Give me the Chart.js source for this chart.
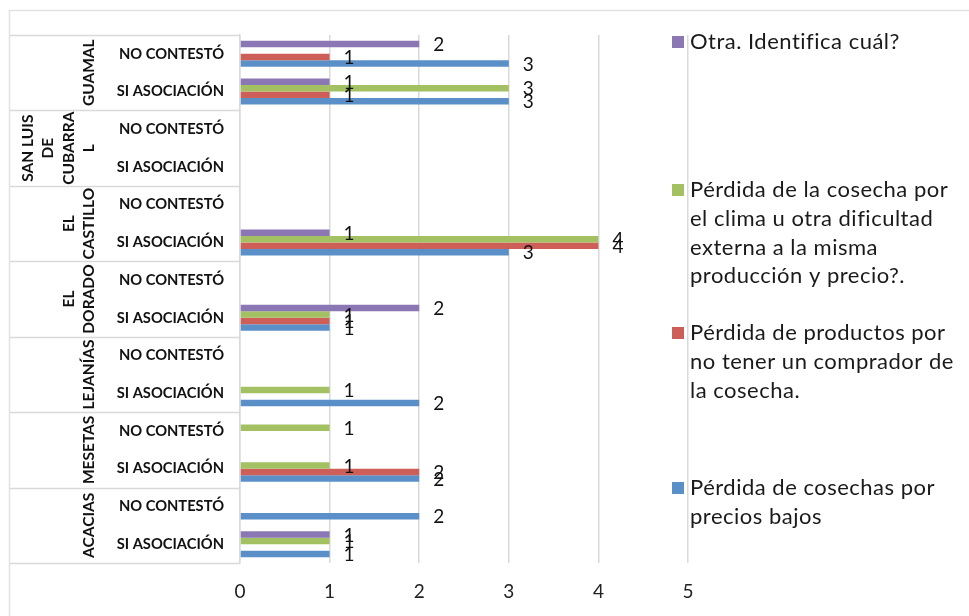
<!DOCTYPE html>
<html>
<head>
<meta charset="utf-8">
<script src="https://cdn.jsdelivr.net/npm/chart.js@4.4.1/dist/chart.umd.min.js"></script>
<style>
  html, body { margin: 0; padding: 0; background: #fff; }
  #wrap { width: 969px; height: 616px; position: relative; }
</style>
</head>
<body>
<div id="wrap"><canvas id="c" width="969" height="616"></canvas></div>
<script>
// Municipios (top to bottom) and the two answer groups shown for each
const municipios = [
  ["GUAMAL"],
  ["SAN LUIS", "DE", "CUBARRA", "L"],
  ["EL", "CASTILLO"],
  ["EL", "DORADO"],
  ["LEJANÍAS"],
  ["MESETAS"],
  ["ACACIAS"]
];
const respuestas = ["NO CONTESTÓ", "SI ASOCIACIÓN"];
const categorias = municipios.flatMap(() => respuestas);

// Respuestas por categoría (orden de arriba hacia abajo)
const otra      = [2, 1, null, null, null, 1, null, 2, null, null, null, null, null, 1];
const clima     = [null, 3, null, null, null, 4, null, 1, null, 1, 1, 1, null, 1];
const comprador = [1, 1, null, null, null, 4, null, 1, null, null, null, 2, null, null];
const precios   = [3, 3, null, null, null, 3, null, 1, null, 2, null, 2, 2, 1];

const nombresSeries = [
  "Otra. Identifica cuál?",
  "Pérdida de la cosecha por\nel clima u otra dificultad\nexterna a la misma\nproducción y precio?.",
  "Pérdida de productos por\nno tener un comprador de\nla cosecha.",
  "Pérdida de cosechas por\nprecios bajos"
];
const coloresSeries = ["#8B77B4", "#A3C162", "#CD5F58", "#5B8FC8"];
const valoresEje = [0, 1, 2, 3, 4, 5];

const FONT = "Lato, 'DejaVu Sans', sans-serif";
const GRID = "#d9d9d9";

// Outer chart frame
const frame = {
  id: "frame",
  beforeDraw(chart) {
    const ctx = chart.ctx;
    ctx.save();
    ctx.fillStyle = "#fff";
    ctx.fillRect(0, 0, chart.width, chart.height);
    ctx.strokeStyle = "#e2e2e2";
    ctx.lineWidth = 1.5;
    ctx.beginPath();
    ctx.moveTo(9.5, chart.height);
    ctx.lineTo(9.5, 10.5);
    ctx.lineTo(chart.width, 10.5);
    ctx.stroke();
    ctx.restore();
  }
};

// Municipio separators and rotated municipio names on the category axis
const grupos = {
  id: "grupos",
  afterDraw(chart) {
    const ctx = chart.ctx;
    const y = chart.scales.y;
    const area = chart.chartArea;
    const n = categorias.length;
    const bound = i => {
      if (i <= 0) return area.top;
      if (i >= n) return area.bottom;
      return (y.getPixelForValue(i - 1) + y.getPixelForValue(i)) / 2;
    };
    ctx.save();
    ctx.strokeStyle = GRID;
    ctx.lineWidth = 1.5;
    for (let g = 0; g <= municipios.length; g++) {
      const py = Math.round(bound(g * 2)) + 0.5;
      ctx.beginPath();
      ctx.moveTo(10, py);
      ctx.lineTo(area.left, py);
      ctx.stroke();
    }
    ctx.fillStyle = "#111";
    ctx.font = "bold 15.5px " + FONT;
    ctx.textAlign = "center";
    ctx.textBaseline = "middle";
    const step = 20.5;
    municipios.forEach((lineas, g) => {
      const cy = (bound(g * 2) + bound(g * 2 + 2)) / 2;
      lineas.forEach((t, k) => {
        const cx = 89 - (lineas.length - 1 - k) * step;
        ctx.save();
        ctx.translate(cx, cy);
        ctx.rotate(-Math.PI / 2);
        ctx.fillText(t, 0, 0);
        ctx.restore();
      });
    });
    ctx.restore();
  }
};

// Value labels at the end of each bar
const etiquetas = {
  id: "etiquetas",
  afterDatasetsDraw(chart) {
    const ctx = chart.ctx;
    ctx.save();
    ctx.fillStyle = "#111";
    ctx.font = "19px " + FONT;
    ctx.textAlign = "left";
    ctx.textBaseline = "middle";
    chart.data.datasets.forEach((ds, i) => {
      const meta = chart.getDatasetMeta(i);
      meta.data.forEach((bar, j) => {
        const v = ds.data[j];
        if (v === null || v === undefined) return;
        ctx.fillText(String(v), bar.x + 14, bar.y + 1);
      });
    });
    ctx.restore();
  }
};

// Legend on the right, one block per series
const leyenda = {
  id: "leyenda",
  afterDraw(chart) {
    const ctx = chart.ctx;
    const tops = [42, 190, 333, 488];
    const lh = 28.8;
    ctx.save();
    ctx.font = "22px " + FONT;
    if ("letterSpacing" in ctx) ctx.letterSpacing = "0.5px";
    ctx.textAlign = "left";
    ctx.textBaseline = "middle";
    chart.data.datasets.forEach((ds, i) => {
      ctx.fillStyle = ds.backgroundColor;
      ctx.fillRect(672, tops[i] - 6, 12, 12);
      ctx.fillStyle = "#1a1a1a";
      ds.label.split("\n").forEach((line, k) => {
        ctx.fillText(line, 690, tops[i] + k * lh);
      });
    });
    ctx.restore();
  }
};

const datasets = [otra, clima, comprador, precios].map((d, i) => ({
  label: nombresSeries[i],
  data: d,
  backgroundColor: coloresSeries[i],
  borderWidth: 0,
  barPercentage: 1,
  categoryPercentage: 0.69
}));

new Chart(document.getElementById("c"), {
  type: "bar",
  data: { labels: categorias, datasets },
  options: {
    indexAxis: "y",
    responsive: false,
    animation: false,
    devicePixelRatio: 1,
    layout: { padding: { left: 0, top: 35, right: 281, bottom: 0 } },
    plugins: { legend: { display: false }, tooltip: { enabled: false } },
    scales: {
      x: {
        min: 0,
        max: 5,
        afterBuildTicks(scale) { scale.ticks = valoresEje.map(v => ({ value: v })); },
        afterFit(scale) { scale.height = 53; },
        grid: { color: GRID, lineWidth: 1.5, drawTicks: false },
        border: { display: false },
        ticks: { padding: 17, color: "#222", font: { family: FONT, size: 19 } }
      },
      y: {
        afterFit(scale) { scale.width = 240; },
        grid: { display: false, drawTicks: false },
        border: { display: true, color: GRID, width: 1.5 },
        ticks: {
          padding: 16,
          color: "#111",
          font: { family: FONT, size: 14.7, weight: "bold" },
          autoSkip: false
        }
      }
    }
  },
  plugins: [frame, grupos, etiquetas, leyenda]
});
</script>
</body>
</html>
